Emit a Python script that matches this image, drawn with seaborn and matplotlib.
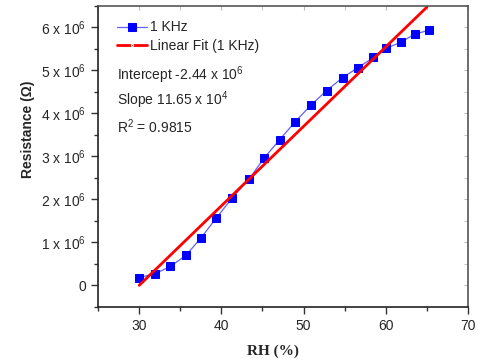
import matplotlib.pyplot as plt
import matplotlib.ticker as mticker
import seaborn as sns
import pandas as pd

# data
rh = [30, 31.9, 33.8, 35.7, 37.5, 39.4, 41.3, 43.4, 45.2, 47.1,
      49.0, 50.9, 52.8, 54.75, 56.6, 58.5, 60.0, 61.8, 63.5, 65.2]
resistance = [0.18e6, 0.27e6, 0.44e6, 0.70e6, 1.10e6, 1.57e6, 2.03e6, 2.48e6, 2.96e6, 3.39e6,
              3.81e6, 4.19e6, 4.53e6, 4.83e6, 5.06e6, 5.30e6, 5.51e6, 5.65e6, 5.84e6, 5.93e6]
fit_rh = [30, 65]
fit_res = [0.0, 6.47e6]

y_ticks = [0, 1e6, 2e6, 3e6, 4e6, 5e6, 6e6]
y_labels = ['0', r'1 x 10$^6$', r'2 x 10$^6$', r'3 x 10$^6$', r'4 x 10$^6$', r'5 x 10$^6$', r'6 x 10$^6$']
x_ticks = [30, 40, 50, 60, 70]

df = pd.DataFrame({'RH': rh, 'R': resistance})
fit = pd.DataFrame({'RH': fit_rh, 'R': fit_res})

sns.set_style('ticks')
plt.rcParams['font.family'] = ['Liberation Sans', 'DejaVu Sans']
plt.rcParams['mathtext.fontset'] = 'custom'
plt.rcParams['mathtext.rm'] = 'Liberation Sans'

fig = plt.figure(figsize=(4.88, 3.64), dpi=100)
ax = fig.add_axes([0.201, 0.157, 0.758, 0.827])

sns.lineplot(data=df, x='RH', y='R', ax=ax, color='#0000ff', lw=0.9, alpha=1,
             marker='s', markersize=6, markeredgecolor='#0000ff', label='1 KHz')
sns.lineplot(data=fit, x='RH', y='R', ax=ax, color='#ff0000', lw=2,
             label='Linear Fit (1 KHz)')
ax.lines[0].set_color('#6060ff')
ax.lines[0].set_markerfacecolor('#0000ff')

ax.set_xlim(25, 70)
ax.set_ylim(-0.5e6, 6.5e6)
ax.set_xticks(x_ticks)
ax.set_yticks(y_ticks)
ax.set_yticklabels(y_labels)
ax.xaxis.set_minor_locator(mticker.MultipleLocator(5))
ax.yaxis.set_minor_locator(mticker.MultipleLocator(0.5e6))
ax.tick_params(axis='both', which='major', labelsize=10, length=5, width=1, color='#333333')
ax.tick_params(axis='both', which='minor', length=3, width=1, color='#333333')
for side in ['left', 'bottom']:
    ax.spines[side].set_linewidth(1.2)
    ax.spines[side].set_color('#222222')
for side in ['top', 'right']:
    ax.spines[side].set_linewidth(1.2)
    ax.spines[side].set_color('#555555')

# faint inward ticks on the top and right frame
top = ax.secondary_xaxis('top')
top.set_xticks(x_ticks)
top.xaxis.set_minor_locator(mticker.MultipleLocator(5))
top.tick_params(which='both', direction='in', length=3, color='#bbbbbb', labeltop=False)
top.spines['top'].set_visible(False)
right = ax.secondary_yaxis('right')
right.set_yticks(y_ticks)
right.yaxis.set_minor_locator(mticker.MultipleLocator(0.5e6))
right.tick_params(which='both', direction='in', length=3, color='#bbbbbb', labelright=False)
right.spines['right'].set_visible(False)

ax.set_xlabel('RH (%)', fontsize=11, fontweight='bold', family=['Liberation Serif'])
ax.xaxis.set_label_coords(0.473, -0.125)
ax.set_ylabel('Resistance (Ω)', fontsize=10, fontweight='bold')
ax.yaxis.set_label_coords(-0.17, 0.59)

leg = ax.legend(loc='upper left', frameon=False, fontsize=10, handlelength=2.2,
                bbox_to_anchor=(0.035, 0.97), borderaxespad=0, labelspacing=0.35,
                handletextpad=0.2)
leg.legend_handles[1].set_marker('.')
leg.legend_handles[1].set_markersize(3)

ax.text(0.05, 0.77, r'Intercept -2.44 x 10$^6$', transform=ax.transAxes, fontsize=10, va='center')
ax.text(0.05, 0.685, r'Slope 11.65 x 10$^4$', transform=ax.transAxes, fontsize=10, va='center')
ax.text(0.05, 0.60, r'R$^2$ = 0.9815', transform=ax.transAxes, fontsize=10, va='center')

plt.savefig('out.png', dpi=100)
plt.close()
